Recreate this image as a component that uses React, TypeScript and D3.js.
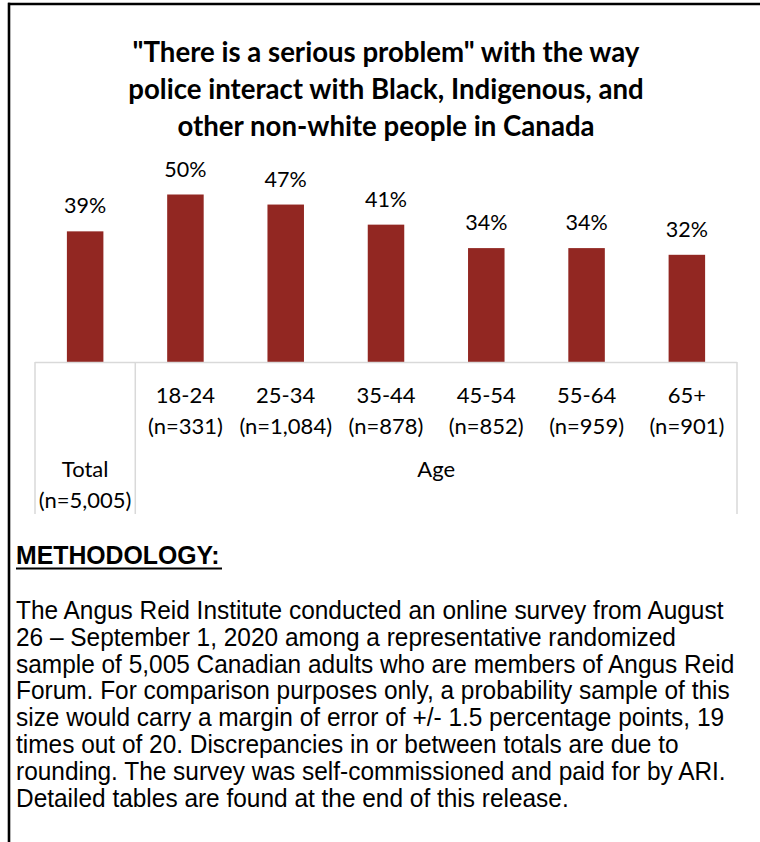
import React from "react";
import * as d3 from "d3";

const titleLines = [
  "\"There is a serious problem\" with the way",
  "police interact with Black, Indigenous, and",
  "other non-white people in Canada",
];
const categories = ["Total", "18-24", "25-34", "35-44", "45-54", "55-64", "65+"];
const sampleSizes = ["(n=5,005)", "(n=331)", "(n=1,084)", "(n=878)", "(n=852)", "(n=959)", "(n=901)"];
const values = [39, 50, 47, 41, 34, 34, 32];
const groupLabel = "Age";
const methodologyHeading = "METHODOLOGY:";
const methodologyLines = [
  "The Angus Reid Institute conducted an online survey from August",
  "26 \u2013 September 1, 2020 among a representative randomized",
  "sample of 5,005 Canadian adults who are members of Angus Reid",
  "Forum. For comparison purposes only, a probability sample of this",
  "size would carry a margin of error of +/- 1.5 percentage points, 19",
  "times out of 20. Discrepancies in or between totals are due to",
  "rounding. The survey was self-commissioned and paid for by ARI.",
  "Detailed tables are found at the end of this release.",
];

const W = 760;
const H = 842;
const BAR = "#922722";
const GRID = "#d9d9d9";
const CAL = "Lato, 'Open Sans', sans-serif";
const ARIAL = "'Liberation Sans', Arial, sans-serif";

export default function App() {
  const x = d3
    .scaleBand<string>()
    .domain(categories)
    .range([35, 737])
    .paddingInner(0.636)
    .paddingOuter(0.318);
  const y = d3.scaleLinear().domain([0, 60]).range([362, 161]);
  const baseY = y(0);
  const bw = x.bandwidth();
  const dividerX = (x(categories[0])! + bw / 2 + x(categories[1])! + bw / 2) / 2;
  const ageCenter = (dividerX + 737) / 2;

  return (
    <svg
      width={W}
      height={H}
      style={{ position: "absolute", left: 0, top: 0, background: "#fff" }}
    >
      <rect x={0} y={0} width={W} height={H} fill="#fff" />
      {/* frame */}
      <line x1={8} y1={4} x2={W} y2={4} stroke="#000" strokeWidth={2.6} />
      <line x1={9} y1={2.7} x2={9} y2={H} stroke="#000" strokeWidth={2.6} />

      {/* title */}
      <g fontFamily={CAL} fontWeight={700} fontSize={27.6} textAnchor="middle" fill="#000">
        {titleLines.map((t, i) => (
          <text key={i} x={386} y={62 + i * 37}>
            {t}
          </text>
        ))}
      </g>

      {/* bars */}
      {values.map((v, i) => (
        <rect
          key={categories[i]}
          x={x(categories[i])}
          y={y(v)}
          width={bw}
          height={baseY - y(v)}
          fill={BAR}
        />
      ))}
      {/* data labels */}
      <g fontFamily={CAL} fontSize={21.5} textAnchor="middle" fill="#000">
        {values.map((v, i) => (
          <text key={i} x={x(categories[i])! + bw / 2} y={y(v) - 18}>
            {v}%
          </text>
        ))}
      </g>

      {/* axis lines */}
      <g stroke={GRID} strokeWidth={1.5}>
        <line x1={35} y1={baseY + 0.5} x2={737} y2={baseY + 0.5} />
        <line x1={35} y1={baseY} x2={35} y2={514} />
        <line x1={dividerX} y1={baseY} x2={dividerX} y2={514} />
        <line x1={737} y1={baseY} x2={737} y2={514} />
      </g>

      {/* category labels */}
      <g fontFamily={CAL} fontSize={22} textAnchor="middle" fill="#000">
        {categories.map((c, i) => {
          const cx = x(c)! + bw / 2;
          const y1 = i === 0 ? 477 : 403;
          return (
            <g key={c}>
              <text x={cx} y={y1}>{c}</text>
              <text x={cx} y={y1 + 31}>{sampleSizes[i]}</text>
            </g>
          );
        })}
        <text x={ageCenter} y={477}>{groupLabel}</text>
      </g>

      {/* methodology */}
      <g fontFamily={ARIAL} fill="#000">
        <text
          transform="translate(16,564) scale(0.955,1)"
          fontSize={26}
          fontWeight={700}
        >
          {methodologyHeading}
        </text>
        <line x1={16} y1={568.5} x2={222} y2={568.5} stroke="#000" strokeWidth={2.2} />
        {methodologyLines.map((t, i) => (
          <text
            key={i}
            transform={`translate(16,${619 + i * 26.8}) scale(0.94,1)`}
            fontSize={26}
          >
            {t}
          </text>
        ))}
      </g>
    </svg>
  );
}
